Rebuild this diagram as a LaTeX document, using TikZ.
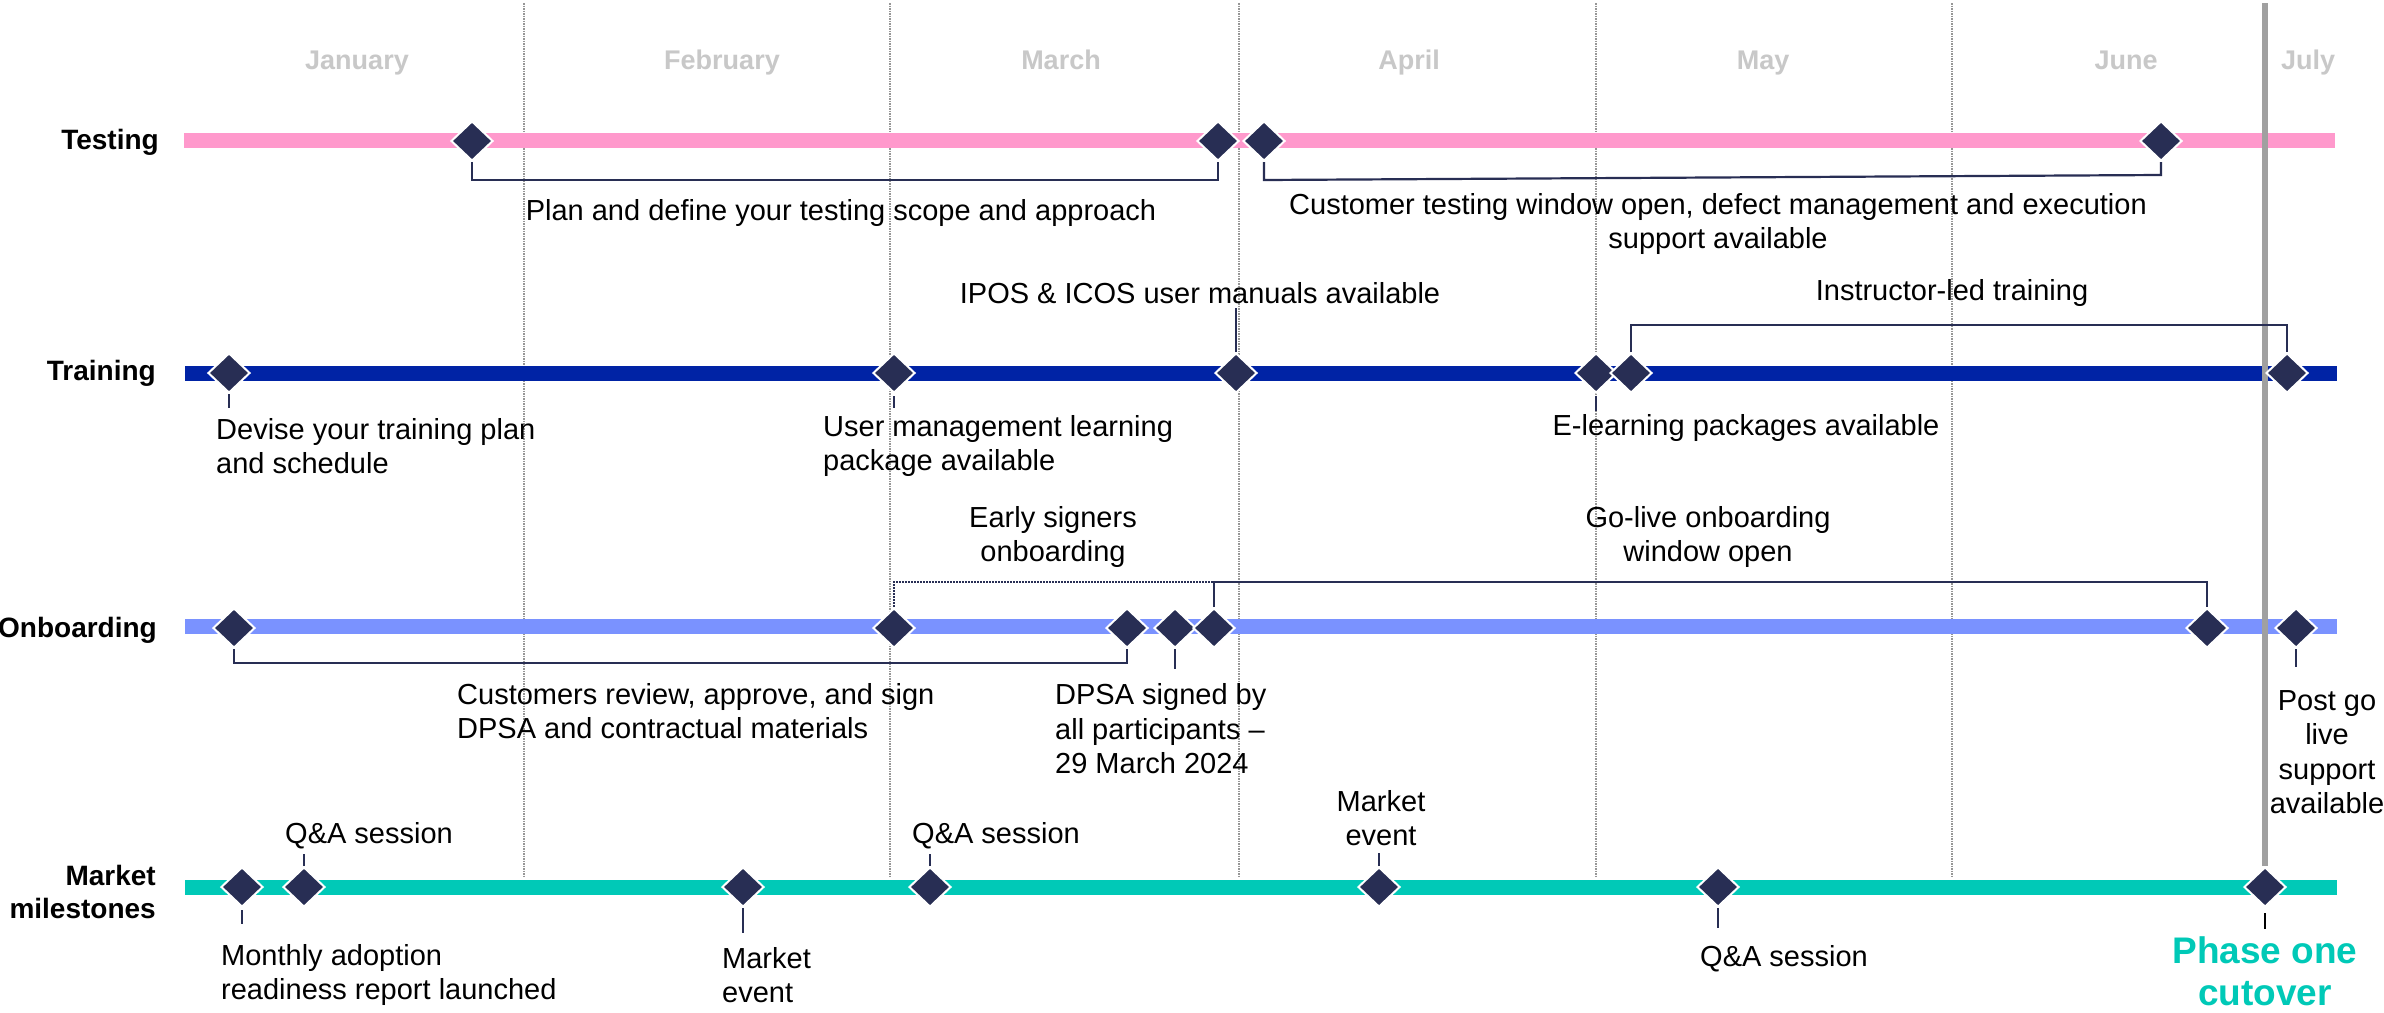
\documentclass[tikz,border=0pt]{standalone}
\usepackage{fontspec}
\setmainfont{Liberation Sans}
\usetikzlibrary{shapes.geometric}
\definecolor{pinkc}{RGB}{255,153,204}
\definecolor{navyc}{RGB}{0,35,165}
\definecolor{perc}{RGB}{122,146,255}
\definecolor{tealc}{RGB}{0,201,183}
\definecolor{dnavy}{RGB}{40,46,84}
\definecolor{grayl}{RGB}{160,160,160}
\definecolor{mongray}{RGB}{200,200,200}
\definecolor{dotgray}{RGB}{150,150,150}
\tikzset{
  dia/.style={diamond, fill=dnavy, draw=white, line width=2pt, minimum width=42pt, minimum height=40pt, inner sep=0pt},
  txt/.style={font=\fontsize{29}{34.5}\selectfont, inner sep=0pt, text=black},
  mon/.style={font=\bfseries\fontsize{27}{32}\selectfont, inner sep=0pt, text=mongray, anchor=base},
  rowlab/.style={font=\bfseries\fontsize{28}{33}\selectfont, inner sep=0pt, text=black, anchor=east, align=right},
  bar/.style={line width=15pt},
  br/.style={draw=dnavy, line width=2.2pt},
  monthline/.style={draw=dotgray, line width=1.5pt, densely dotted},
}
\begin{document}
\begin{tikzpicture}[x=1pt,y=-1pt]
\useasboundingbox[fill=white] (0,0) rectangle (2384,1012);
% month separators
\foreach \mx in {524,890,1239,1596,1952}{
  \draw[monthline] (\mx,3) -- (\mx,876);
}
% months
\node[mon] (jan) at (357,69) {January};
\node[mon] (feb) at (722,69) {February};
\node[mon] (mar) at (1061,69) {March};
\node[mon] (apr) at (1409,69) {April};
\node[mon] (may) at (1763,69) {May};
\node[mon] (jun) at (2126,69) {June};
\node[mon] (jul) at (2308,69) {July};
% row labels
\node[rowlab] (lt) at (159,142) {Testing};
\node[rowlab] (lr) at (156,373) {Training};
\node[rowlab] (lo) at (157,630) {Onboarding};
\node[rowlab] (lm) at (156,892) {Market\\milestones};
% bars
\draw[bar, pinkc] (184,140) -- (2335,140);
\draw[bar, navyc] (185,373.5) -- (2337,373.5);
\draw[bar, perc] (185,626) -- (2337,626);
\draw[bar, tealc] (185,887) -- (2337,887);
% cutover line
\draw[grayl, line width=6pt] (2265,3) -- (2265,866);
% diamonds
\node[dia] (t1) at (472,141) {};
\node[dia] (t2) at (1218,141) {};
\node[dia] (t3) at (1264,141) {};
\node[dia] (t4) at (2161,141) {};
\node[dia] (r1) at (229,373) {};
\node[dia] (r2) at (894,373) {};
\node[dia] (r3) at (1236,373) {};
\node[dia] (r4) at (1596,373) {};
\node[dia] (r5) at (1631,373) {};
\node[dia] (r6) at (2287,373) {};
\node[dia] (o1) at (234,628) {};
\node[dia] (o2) at (894,628) {};
\node[dia] (o3) at (1127,628) {};
\node[dia] (o4) at (1175,628) {};
\node[dia] (o5) at (1214,628) {};
\node[dia] (o6) at (2207,628) {};
\node[dia] (o7) at (2296,628) {};
\node[dia] (m1) at (242,887) {};
\node[dia] (m2) at (304,887) {};
\node[dia] (m3) at (743,887) {};
\node[dia] (m4) at (930,887) {};
\node[dia] (m5) at (1379,887) {};
\node[dia] (m6) at (1718,887) {};
\node[dia] (m7) at (2265,887) {};
% texts
\node[txt] (tx1) at (841,213) {Plan and define your testing scope and approach};
\node[txt, align=center] (tx2) at (1718,224) {Customer testing window open, defect management and execution\\support available};
\node[txt] (tx3) at (1200,293) {IPOS \& ICOS user manuals available};
\node[txt] (tx4) at (1952,293) {Instructor-led training};
\node[txt, anchor=west, align=left] (tx5) at (216,446) {Devise your training plan\\and schedule};
\node[txt, anchor=west, align=left] (tx6) at (823,446) {User management learning\\package available};
\node[txt] (tx7) at (1746,428) {E-learning packages available};
\node[txt, align=center] (tx8) at (1053,537) {Early signers\\onboarding};
\node[txt, align=center] (tx9) at (1708,537) {Go-live onboarding\\window open};
\node[txt, anchor=west, align=left] (tx10) at (457,711) {Customers review, approve, and sign\\DPSA and contractual materials};
\node[txt, anchor=west, align=left] (tx11) at (1055,729) {DPSA signed by\\all participants –\\29 March 2024};
\node[txt, align=center] (tx12) at (2327,752) {Post go\\live\\support\\available};
\node[txt] (tx13) at (369,836) {Q\&A session};
\node[txt] (tx14) at (996,836) {Q\&A session};
\node[txt, align=center] (tx15) at (1381,818) {Market\\event};
\node[txt, anchor=west, align=left] (tx16) at (221,975) {Monthly adoption\\readiness report launched};
\node[txt, anchor=west, align=left] (tx17) at (722,975) {Market\\event};
\node[txt] (tx18) at (1784,959) {Q\&A session};
\node[font=\bfseries\fontsize{37}{42}\selectfont, inner sep=0pt, text=tealc, align=center] (tx19) at (2265,971) {Phase one\\cutover};
% leader end coordinates
\coordinate (c3) at (1236,308);
\coordinate (cm2) at (304,854);
\coordinate (cm4) at (930,854);
\coordinate (cm5) at (1379,853);
% brackets and leaders
\draw[br] (t1.south) |- (t2.south |- 0,180) -- (t2.south);
\draw[br] (t3.south) -- (t3.south |- 0,180) -- (t4.south |- 0,175) -- (t4.south);
\draw[br] (r3.north) -- (c3);
\draw[br] (r5.north) |- (r6.north |- 0,325) -- (r6.north);
\draw[br] (r1.south) -- ++(0,14);
\draw[br] (r2.south) ++(0,2) -- ++(0,12);
\draw[br] (r4.south) ++(0,2) -- ++(0,15);
\draw[br] (o1.south) |- (o3.south |- 0,663) -- (o3.south);
\draw[br] (o4.south) -- ++(0,20);
\draw[draw=dnavy, line width=2pt, densely dotted] (o2.north) |- (o5.north |- 0,582);
\draw[br] (o5.north) |- (o6.north |- 0,582) -- (o6.north);
\draw[br] (o7.south) -- ++(0,18);
\draw[br] (m1.south) ++(0,2) -- ++(0,14);
\draw[br] (m2.north) -- (cm2);
\draw[br] (m3.south) -- ++(0,25);
\draw[br] (m4.north) -- (cm4);
\draw[br] (m5.north) -- (cm5);
\draw[br] (m6.south) -- ++(0,20);
\draw[draw=black, line width=2pt] (m7.south) ++(0,5) -- ++(0,16);
\end{tikzpicture}
\end{document}
